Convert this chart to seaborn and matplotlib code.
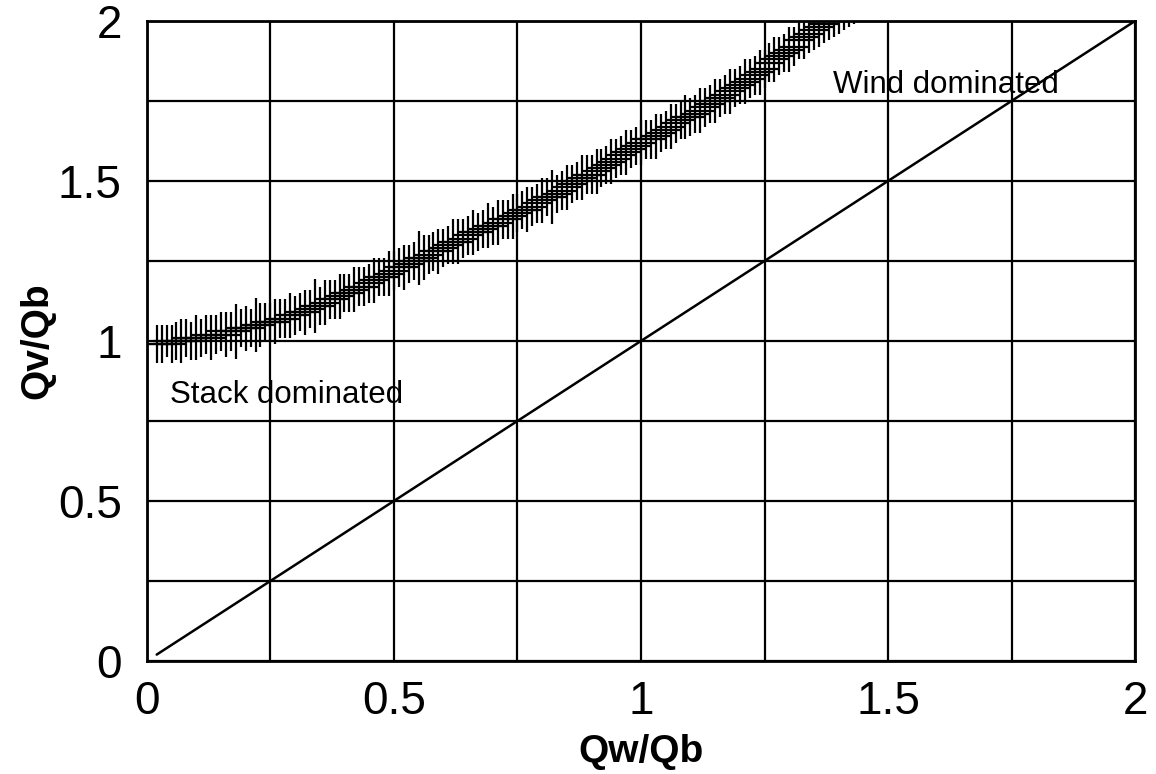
import matplotlib
matplotlib.use("Agg")
import matplotlib.pyplot as plt
import seaborn as sns
import pandas as pd

# ---- data ----
qw_qb = [
    0.02, 0.03, 0.04, 0.05, 0.06, 0.07, 0.08, 0.09,
    0.10, 0.11, 0.12, 0.13, 0.14, 0.15, 0.16, 0.17, 0.18, 0.19,
    0.20, 0.21, 0.22, 0.23, 0.24, 0.25, 0.26, 0.27, 0.28, 0.29,
    0.30, 0.31, 0.32, 0.33, 0.34, 0.35, 0.36, 0.37, 0.38, 0.39,
    0.40, 0.41, 0.42, 0.43, 0.44, 0.45, 0.46, 0.47, 0.48, 0.49,
    0.50, 0.51, 0.52, 0.53, 0.54, 0.55, 0.56, 0.57, 0.58, 0.59,
    0.60, 0.61, 0.62, 0.63, 0.64, 0.65, 0.66, 0.67, 0.68, 0.69,
    0.70, 0.71, 0.72, 0.73, 0.74, 0.75, 0.76, 0.77, 0.78, 0.79,
    0.80, 0.81, 0.82, 0.83, 0.84, 0.85, 0.86, 0.87, 0.88, 0.89,
    0.90, 0.91, 0.92, 0.93, 0.94, 0.95, 0.96, 0.97, 0.98, 0.99,
    1.00, 1.01, 1.02, 1.03, 1.04, 1.05, 1.06, 1.07, 1.08, 1.09,
    1.10, 1.11, 1.12, 1.13, 1.14, 1.15, 1.16, 1.17, 1.18, 1.19,
    1.20, 1.21, 1.22, 1.23, 1.24, 1.25, 1.26, 1.27, 1.28, 1.29,
    1.30, 1.31, 1.32, 1.33, 1.34, 1.35, 1.36, 1.37, 1.38, 1.39,
    1.40, 1.41, 1.42, 1.43, 1.44, 1.45,
]
qv_qb = [
    0.99, 0.99, 1.00, 0.99, 1.00, 1.00, 1.01, 1.00,
    1.01, 1.01, 1.02, 1.01, 1.02, 1.03, 1.02, 1.03, 1.03, 1.04,
    1.04, 1.04, 1.05, 1.05, 1.06, 1.06, 1.06, 1.07, 1.07, 1.08,
    1.08, 1.09, 1.09, 1.10, 1.11, 1.11, 1.12, 1.13, 1.13, 1.14,
    1.15, 1.15, 1.16, 1.17, 1.17, 1.18, 1.19, 1.20, 1.20, 1.21,
    1.22, 1.23, 1.23, 1.24, 1.25, 1.26, 1.26, 1.27, 1.28, 1.28,
    1.29, 1.30, 1.31, 1.31, 1.32, 1.33, 1.34, 1.34, 1.35, 1.36,
    1.36, 1.37, 1.38, 1.38, 1.39, 1.40, 1.41, 1.41, 1.42, 1.43,
    1.44, 1.45, 1.45, 1.46, 1.47, 1.48, 1.49, 1.50, 1.51, 1.52,
    1.52, 1.53, 1.54, 1.55, 1.56, 1.57, 1.58, 1.59, 1.60, 1.61,
    1.62, 1.63, 1.63, 1.64, 1.65, 1.66, 1.67, 1.68, 1.69, 1.70,
    1.70, 1.71, 1.72, 1.73, 1.74, 1.75, 1.76, 1.77, 1.78, 1.79,
    1.80, 1.81, 1.82, 1.83, 1.84, 1.85, 1.87, 1.88, 1.89, 1.90,
    1.91, 1.92, 1.94, 1.95, 1.96, 1.97, 1.98, 1.99, 2.00, 2.01,
    2.02, 2.03, 2.04, 2.05, 2.06, 2.07,
]
qv_err = [
    0.06, 0.06, 0.05, 0.06, 0.06, 0.07, 0.06, 0.06,
    0.07, 0.06, 0.06, 0.07, 0.06, 0.06, 0.07, 0.06, 0.085, 0.06,
    0.07, 0.06, 0.085, 0.07, 0.06, 0.06, 0.07, 0.06, 0.06, 0.07,
    0.06, 0.06, 0.07, 0.06, 0.085, 0.06, 0.07, 0.06, 0.06, 0.07,
    0.06, 0.06, 0.07, 0.06, 0.06, 0.06, 0.07, 0.06, 0.06, 0.07,
    0.06, 0.06, 0.07, 0.06, 0.06, 0.085, 0.07, 0.06, 0.06, 0.07,
    0.06, 0.06, 0.07, 0.07, 0.06, 0.06, 0.07, 0.06, 0.06, 0.07,
    0.06, 0.07, 0.06, 0.06, 0.07, 0.06, 0.06, 0.07, 0.06, 0.06,
    0.07, 0.06, 0.085, 0.06, 0.06, 0.07, 0.06, 0.06, 0.07, 0.06,
    0.06, 0.07, 0.06, 0.06, 0.07, 0.06, 0.06, 0.07, 0.06, 0.06,
    0.07, 0.06, 0.06, 0.07, 0.06, 0.06, 0.07, 0.06, 0.06, 0.07,
    0.06, 0.06, 0.07, 0.06, 0.06, 0.07, 0.06, 0.06, 0.07, 0.06,
    0.06, 0.07, 0.06, 0.06, 0.07, 0.06, 0.06, 0.07, 0.06, 0.06,
    0.07, 0.06, 0.06, 0.07, 0.06, 0.06, 0.06, 0.06, 0.06, 0.06,
    0.06, 0.06, 0.06, 0.06, 0.06, 0.06,
]
qw_err = 0.028
diag_x = [0.02, 2.0]
diag_y = [0.02, 2.0]
ticks = [0, 0.5, 1, 1.5, 2]
tick_labels = ["0", "0.5", "1", "1.5", "2"]
grid_lines = [0.25, 0.75, 1.25, 1.75]

sns.set_theme(style="white")
plt.rcParams['font.family'] = ['Liberation Sans', 'DejaVu Sans']

fig = plt.figure(figsize=(11.56, 7.74), dpi=100)
ax = fig.add_axes([0.127, 0.146, 0.855, 0.827])

ax.set_xlim(0, 2)
ax.set_ylim(0, 2)
ax.set_xticks(ticks)
ax.set_xticklabels(tick_labels)
ax.set_yticks(ticks)
ax.set_yticklabels(tick_labels)
ax.set_xticks(grid_lines, minor=True)
ax.set_yticks(grid_lines, minor=True)
ax.grid(True, which="both", color="black", linewidth=1.6)
ax.set_axisbelow(True)
ax.tick_params(which="both", length=0, labelsize=33, colors="black")
ax.tick_params(axis="x", pad=14)
ax.tick_params(axis="y", pad=18)

df = pd.DataFrame({"x": diag_x, "y": diag_y})
sns.lineplot(data=df, x="x", y="y", color="black", linewidth=1.8, ax=ax)

ax.errorbar(qw_qb, qv_qb, xerr=qw_err, yerr=qv_err, fmt="none",
            ecolor="black", elinewidth=1.6, capsize=0, zorder=3)

ax.text(0.047, 0.806, "Stack dominated", fontsize=22.5, color="black")
ax.text(1.389, 1.775, "Wind dominated", fontsize=22.5, color="black")

ax.set_xlabel("Qw/Qb", fontsize=28, fontweight="bold", color="black")
ax.set_ylabel("Qv/Qb", fontsize=28, fontweight="bold", color="black")
ax.xaxis.label.set_va("center")
ax.yaxis.label.set_va("center")
ax.xaxis.set_label_coords(0.5, -0.142)
ax.yaxis.set_label_coords(-0.111, 0.5)

for s in ax.spines.values():
    s.set_color("black")
    s.set_linewidth(2)

fig.savefig("out.png", dpi=100)
